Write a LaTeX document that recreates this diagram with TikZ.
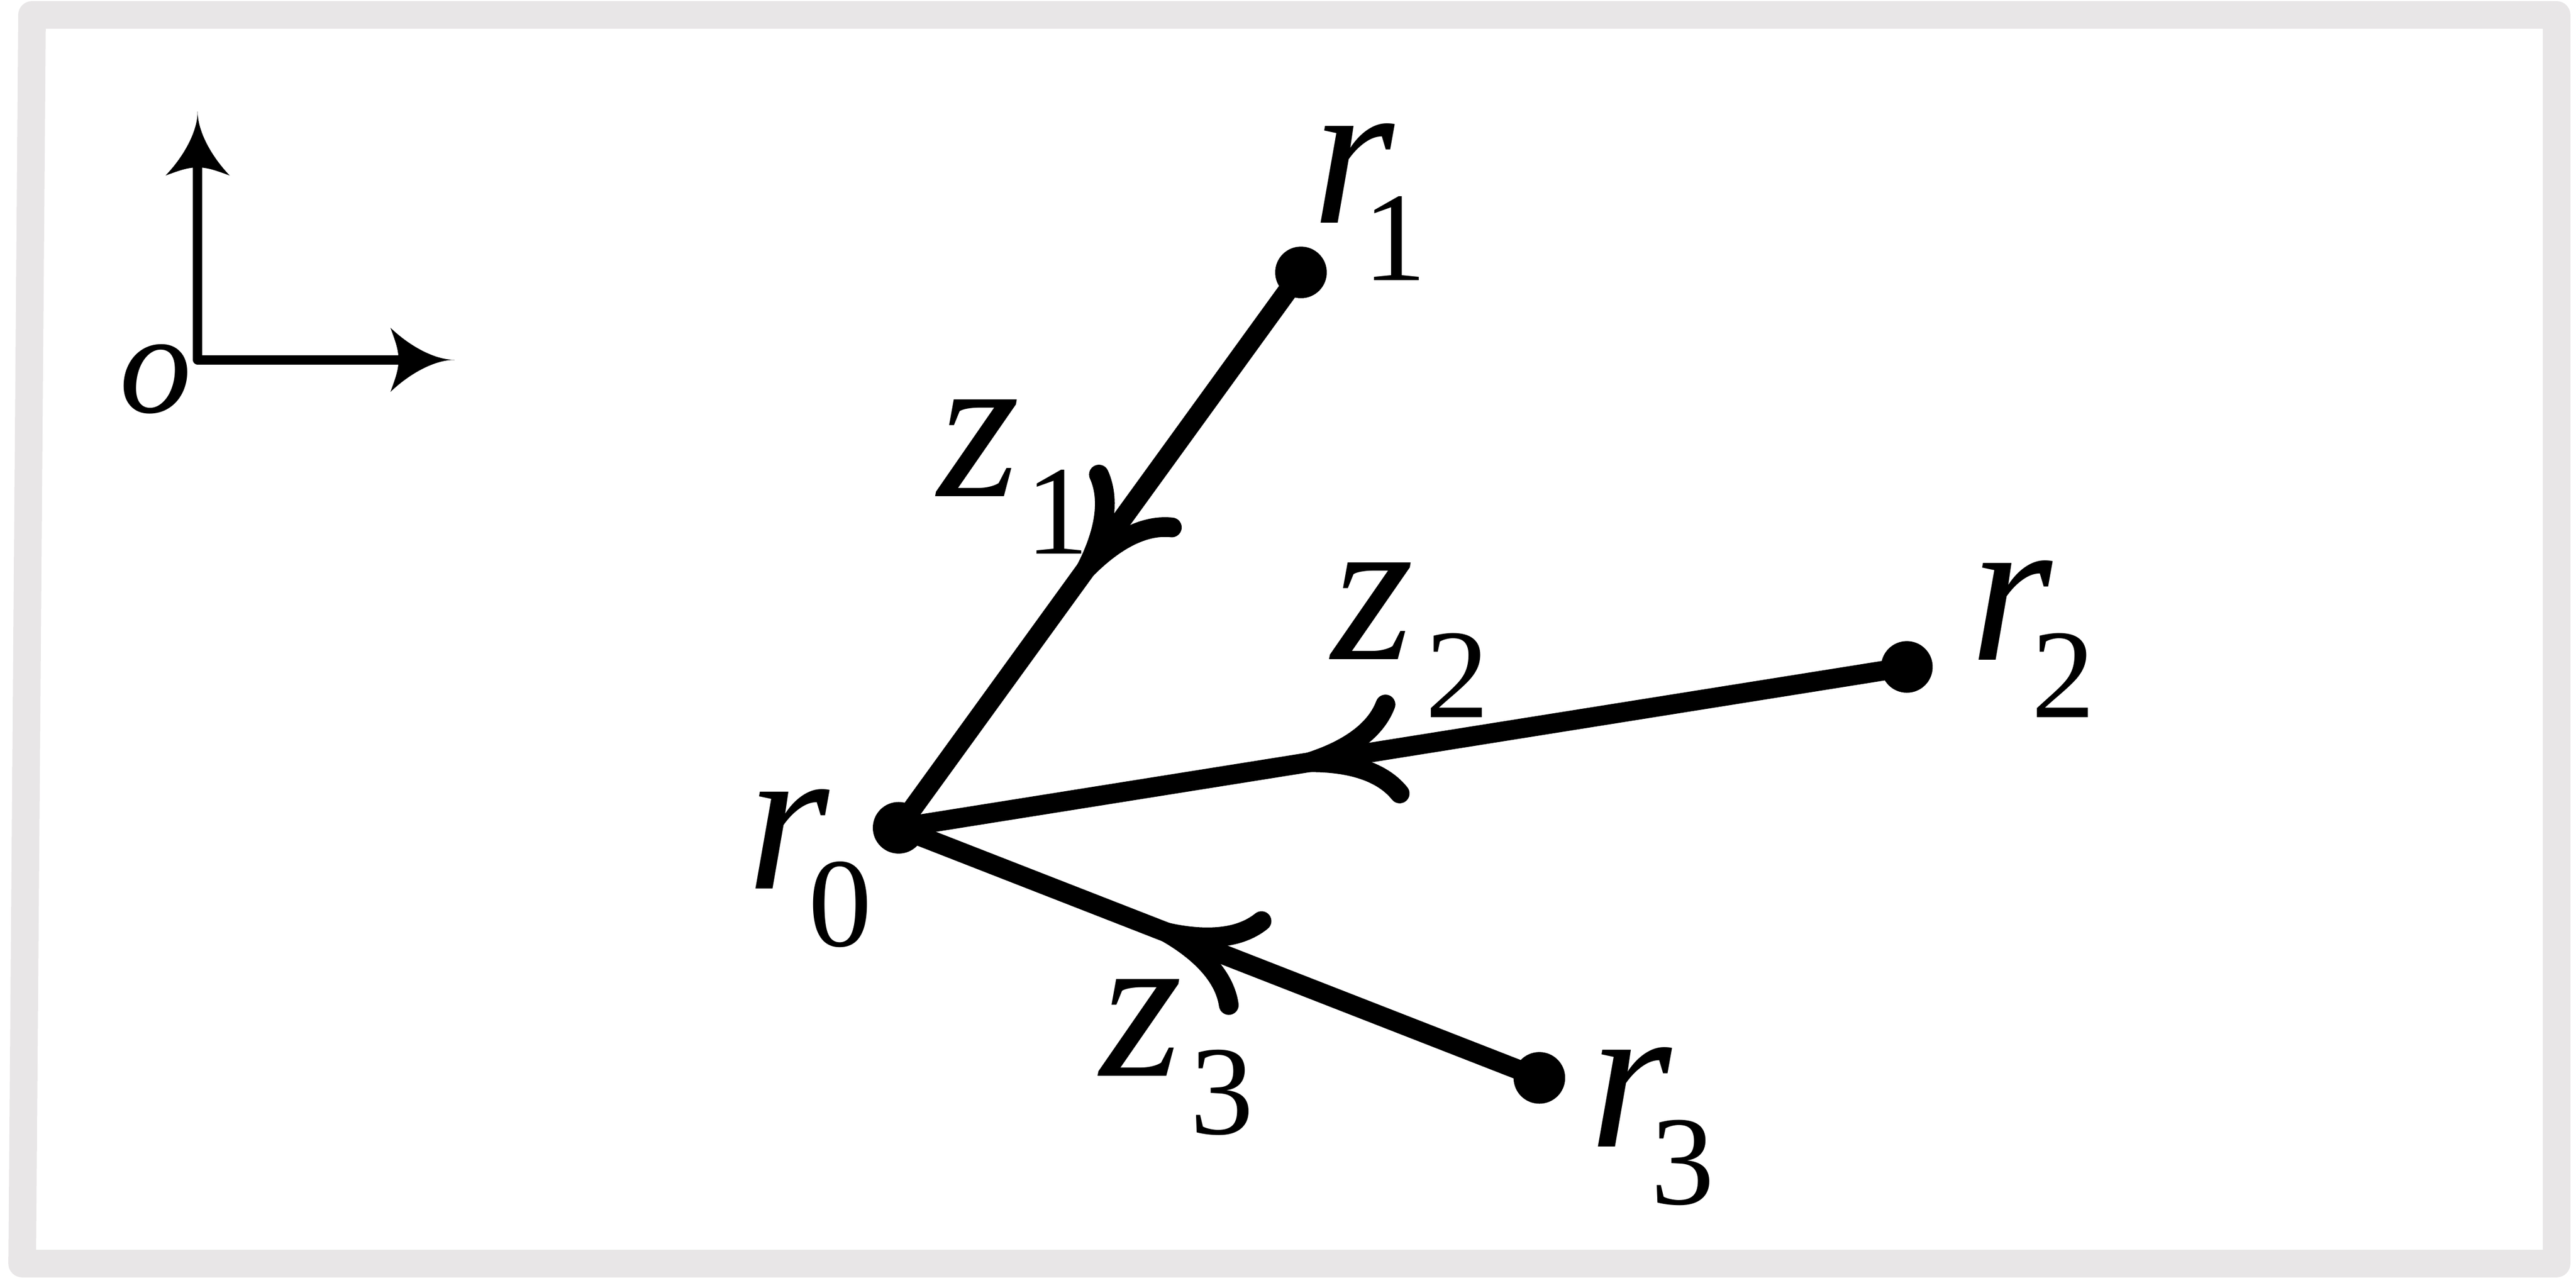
\documentclass[tikz,border=0pt]{standalone}
\usepackage{fontspec}
\setmainfont{Liberation Serif}
\usetikzlibrary{arrows.meta,decorations.markings}

\pgfdeclarearrow{
  name = spike,
  setup code = {
    \pgfarrowssettipend{0pt}
    \pgfarrowssetlineend{-8pt}
    \pgfarrowssetvisualbackend{-9.7pt}
    \pgfarrowssetbackend{-11.1pt}
    \pgfarrowsupperhullpoint{0pt}{0pt}
    \pgfarrowsupperhullpoint{-11.1pt}{5.55pt}
  },
  drawing code = {
    \pgfpathmoveto{\pgfqpoint{0pt}{0pt}}
    \pgfpathcurveto{\pgfqpoint{-3.4pt}{0pt}}{\pgfqpoint{-7.7pt}{2.3pt}}{\pgfqpoint{-11.1pt}{5.55pt}}
    \pgfpathcurveto{\pgfqpoint{-10.2pt}{3.1pt}}{\pgfqpoint{-9.7pt}{1.7pt}}{\pgfqpoint{-9.7pt}{0pt}}
    \pgfpathcurveto{\pgfqpoint{-9.7pt}{-1.7pt}}{\pgfqpoint{-10.2pt}{-3.1pt}}{\pgfqpoint{-11.1pt}{-5.55pt}}
    \pgfpathcurveto{\pgfqpoint{-7.7pt}{-2.3pt}}{\pgfqpoint{-3.4pt}{0pt}}{\pgfqpoint{0pt}{0pt}}
    \pgfpathclose
    \pgfusepathqfill
  }
}

\definecolor{framegray}{HTML}{E8E6E7}

% r or z with a lowered index
\newcommand{\idx}[3]{\textit{#1}\kern#2\raisebox{-9.96pt}{\fontsize{22pt}{22pt}\selectfont #3}}

\tikzset{
  frame/.style={draw=framegray,line width=0.168cm,line join=round},
  axis/.style={line width=1.6pt,line join=round,spike-spike},
  dot/.style={circle,fill,inner sep=0pt,minimum size=0.314cm},
  lbl/.style={inner sep=0pt,anchor=base west,font=\fontsize{36.5pt}{40pt}\selectfont},
  flow/.style={line width=3.41pt,postaction={decorate},
    decoration={markings,mark=at position #1 with
      {\arrow{Computer Modern Rightarrow[length=18pt,width=19pt,line width=3.41pt]}}}}
}

\begin{document}
\begin{tikzpicture}[x=0.01cm,y=-0.01cm]
  \useasboundingbox (0,0) rectangle (1568,777.7);
  \draw[frame] (19.5,9.1) -- (1556.2,9.1) -- (1556.2,769) -- (13.5,769) -- cycle;

  % axes
  \coordinate (o) at (120.3,219);
  \coordinate (ytip) at (120.3,67.8);
  \coordinate (xtip) at (276.7,219);
  \draw[axis] (ytip) -- (o) -- (xtip);
  \node[lbl,font=\fontsize{25pt}{28pt}\selectfont] (olbl) at (72,251) {\textit{o}};

  % points
  \node[dot] (r0) at (547,503.8) {};
  \node[dot] (r1) at (791.9,165.8) {};
  \node[dot] (r2) at (1160.7,405.9) {};
  \node[dot] (r3) at (937,656) {};

  \draw[flow=-1.88cm] (r1.center) -- (r0.center);
  \draw[flow=-2.47cm] (r2.center) -- (r0.center);
  \draw[flow=-1.69cm] (r3.center) -- (r0.center);

  \node[lbl] (r0lbl) at (454,540.8) {\idx{r}{-3.7pt}{0}};
  \node[lbl] (r1lbl) at (798,135.6) {\idx{r}{-5.5pt}{1}};
  \node[lbl] (r2lbl) at (1198.5,401.6) {\idx{r}{-3.7pt}{2}};
  \node[lbl] (r3lbl) at (967,698) {\idx{r}{-3.7pt}{3}};
  \node[lbl] (z1lbl) at (570,302) {\idx{z}{1pt}{1}};
  \node[lbl] (z2lbl) at (810,401.5) {\idx{z}{2pt}{2}};
  \node[lbl] (z3lbl) at (669,655) {\idx{z}{1.4pt}{3}};
\end{tikzpicture}
\end{document}
